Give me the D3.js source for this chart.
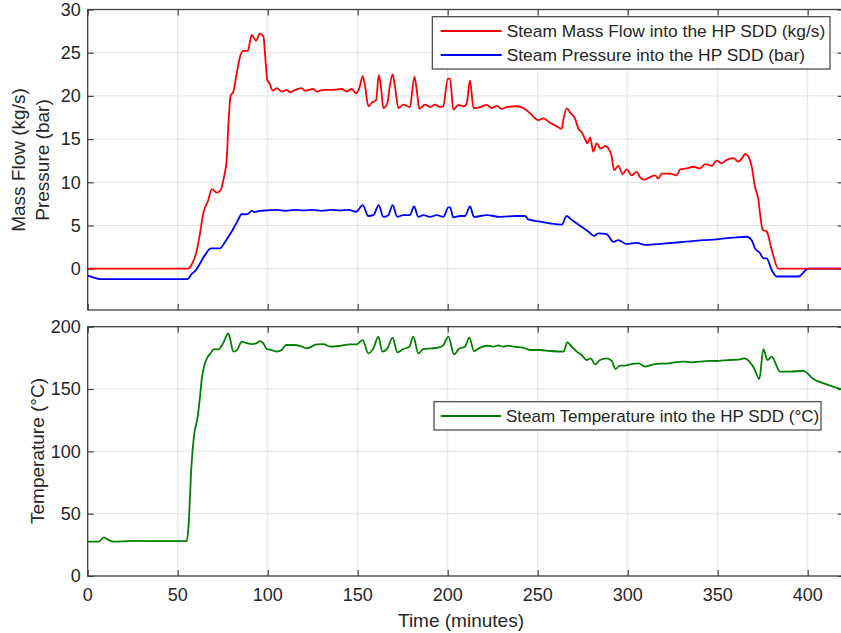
<!DOCTYPE html>
<html>
<head>
<meta charset="utf-8">
<script src="https://cdn.jsdelivr.net/npm/d3@7"></script>
<style>
  body { margin: 0; background: #fff; }
  text { font-family: "Liberation Sans", Arial, sans-serif; fill: #262626; }
</style>
</head>
<body>
<div id="myChart"></div>
<script>
// Steam conditions into the HP SDD, two stacked panels sharing the time axis

// tick labels
var timeTicks = [0, 50, 100, 150, 200, 250, 300, 350, 400];
var topTicks = [0, 5, 10, 15, 20, 25, 30];
var tempTicks = [0, 50, 100, 150, 200];

// [time (min), value]
var flowSeries = [
  [0,0],[55.5,0],[58.5,0.8],[60.5,2.0],[62.4,4.1],[64.2,6.4],[67,7.95],[68.9,9.2],[71.7,8.8],[73.9,9.1],
  [75.7,10.6],[77.2,12.6],[78.3,17.2],[79.4,20.0],[80.9,20.5],[82.8,22.6],[84.6,24.5],[86.5,25.2],[88.9,25.2],
  [91.1,27.05],[93.5,26.4],[95.7,27.2],[97.6,26.9],[98.5,24.9],[99.8,21.8],[100.9,21.5],[102.8,20.6],[105,20.9],
  [107.8,20.5],[110.6,20.7],[112.4,20.4],[115.2,20.7],[118.9,20.9],[120.7,20.6],[125.4,20.8],[127.2,20.5],
  [130.9,20.7],[136.5,20.7],[141.1,20.8],[143.9,20.5],[146.7,20.8],[149.1,20.3],[150.9,20.9],[152.8,22.3],
  [154.1,21.1],[155.9,18.8],[158.3,19.3],[160.2,19.5],[161.7,22.4],[162.9,21.1],[164.2,18.6],[166.4,19.1],
  [167.8,21.1],[169.4,22.5],[170.7,21.1],[172.6,18.6],[175.3,19.0],[179,18.7],[181.5,22.2],[182.8,20.7],
  [184.2,18.5],[187.4,19.0],[190.2,18.7],[192.9,19.0],[195.7,18.7],[197.6,18.8],[200,22.0],[201.3,22.0],
  [203.1,18.4],[205.9,18.95],[208.7,18.8],[210.5,19.1],[212.4,21.8],[214.3,18.6],[218,18.7],[221.7,18.95],
  [224.4,18.6],[227.2,18.85],[230,18.5],[232.8,18.7],[238.3,18.8],[242,18.6],[245.7,18.0],[250.4,17.2],
  [253.1,17.4],[256.8,16.9],[260.5,16.5],[263.3,16.2],[264.2,17.2],[266.1,18.55],[268.3,18.0],[270.7,17.4],
  [272.6,16.2],[274.4,15.8],[276.3,15.0],[277.6,14.5],[279.1,15.2],[280.9,13.55],[282.8,14.5],[285,13.9],
  [287.4,14.2],[289.3,13.9],[291.1,13.0],[292.4,11.4],[294.8,11.9],[297.2,10.95],[299.4,11.5],[302.2,10.8],
  [305,11.2],[306.8,10.6],[309.3,10.3],[312.4,10.6],[315.2,10.8],[317,10.45],[318.9,11.0],[323.5,11.0],
  [327.2,10.8],[329.1,11.5],[332.8,11.6],[336.5,11.8],[340.2,11.6],[343,12.1],[346.7,11.9],[349.4,12.5],
  [352.2,12.2],[355,12.6],[358.7,12.8],[361.5,12.4],[364.2,13.0],[365.2,13.3],[367,13.0],[368.9,11.8],
  [370.7,9.5],[372.6,8.0],[373.5,6.4],[375,4.5],[377.2,4.3],[380,2.2],[383.7,0],[420,0]
];

var pressureSeries = [
  [0,-0.8],[3,-1.0],[7,-1.2],[55.5,-1.2],[57.8,-0.6],[60,-0.2],[62.4,0.6],[65.2,1.6],[68.5,2.35],[73.5,2.35],
  [76.3,3.1],[80,4.3],[83.1,5.45],[85.5,6.3],[88.7,6.3],[91.1,6.7],[92.9,6.55],[95.7,6.7],[100,6.75],[105,6.8],
  [110,6.7],[115,6.8],[120,6.75],[125,6.8],[130,6.7],[135,6.8],[140,6.75],[145,6.8],[149.1,6.6],[152.8,7.35],
  [155.9,6.1],[158.7,6.2],[161.7,7.35],[164.2,6.0],[167,6.2],[169.4,7.35],[172,6.0],[175.3,6.2],[179,6.2],
  [181.3,7.2],[183.7,6.0],[186.5,6.2],[190.2,6.0],[193.9,6.2],[197.6,6.0],[200.4,7.1],[201.3,7.1],[203.1,5.95],
  [206.8,6.1],[209.6,6.1],[212.4,7.2],[214.6,6.0],[221.7,6.2],[229.1,6.0],[238.3,6.1],[242.9,6.1],[244.8,5.7],
  [251.3,5.45],[256.8,5.25],[263.3,5.1],[266.1,6.1],[268.9,5.65],[271.6,5.25],[275.4,4.7],[278.1,4.3],
  [281.3,3.8],[283.7,4.1],[288.3,4.0],[292,3.1],[294.8,3.3],[299.4,2.85],[305,3.0],[309.6,2.75],[319.8,2.9],
  [330.9,3.1],[342,3.3],[349.4,3.4],[358.7,3.6],[366.1,3.7],[368.9,3.3],[370.7,2.35],[373.5,1.8],[375.3,1.2],
  [377.2,1.2],[380,-0.15],[382.8,-0.9],[394.8,-0.9],[400.4,0],[420,0]
];

var tempSeries = [
  [0,27.5],[6,27.5],[9,31],[11.5,29],[14.3,27.5],[25.4,28.1],[44,27.9],[55,27.9],[56,39.6],[57.6,87.7],
  [59,111.8],[61.1,127.8],[62.4,143.8],[63.3,157.2],[64.6,167.9],[66.5,175.4],[68.3,178.6],[69.8,181.8],
  [72.6,181.8],[75.4,187.2],[78.1,194.7],[79,191],[80.9,180],[82.8,181],[85.6,188],[88.3,186.8],[91.1,186],
  [93.9,186.8],[95.7,188.5],[98,185.8],[99.4,182.1],[102.2,181.3],[105,180],[107.8,181.3],[110.2,185.3],
  [114.3,185.3],[118,184.7],[121.7,182.6],[127.2,185.8],[130.9,186.1],[134.6,184],[140.2,184.7],[145.7,185.8],
  [149.4,185.8],[152.8,189.3],[155.9,178.6],[158.7,182.6],[161.5,192],[163.7,180],[166.5,182.6],[169.4,191.2],
  [172,179.4],[175.4,182.1],[178.7,184],[180.9,192],[183.7,178.6],[186.5,182.1],[191.1,182.6],[194.8,183.2],
  [197.6,185.3],[200.4,192],[203.5,177.8],[206.5,182.6],[209.6,184],[212,191.2],[214.6,180.5],[218,183.2],
  [221.7,184.7],[225.4,184],[228,185],[230.9,184],[233.5,184.8],[236.5,184],[242,183.2],[245.7,181.3],
  [251.3,181.3],[256.9,180.5],[264.3,180],[266.5,187.5],[268.9,184],[271.7,180],[274.4,177.3],[277.2,173.3],
  [279.4,174.6],[281.9,169.8],[284.6,173.3],[288.3,174.6],[291.1,172.5],[293.3,166.1],[295.7,168.8],
  [298.5,168.8],[301.3,169.8],[305.9,170.6],[309.6,168],[314.3,169.8],[318,170.4],[321.7,170.4],[326,171.4],
  [330.9,172],[335,171.4],[340.2,172],[345,172.6],[349.4,172.5],[353,173],[356.9,173.3],[361,173.6],
  [365.2,174.6],[367.6,172],[370.2,166.7],[373.1,158],[375.4,182],[377.6,173.3],[380,176],[384.6,164],
  [390.2,164],[397.6,164.5],[403.1,158],[410.6,153.7],[418.5,150],[420,149.5]
];

var topLegend = ["Steam Mass Flow into the HP SDD (kg/s)", "Steam Pressure into the HP SDD (bar)"];
var bottomLegend = ["Steam Temperature into the HP SDD (\u00B0C)"];

var width = 841,
    height = 633;

var svg = d3.select("#myChart")
  .append("svg")
    .attr("width", width)
    .attr("height", height);

svg.append("rect").attr("width", width).attr("height", height).attr("fill", "#fff");

// shared time scale (right edge falls just past the picture)
var x = d3.scaleLinear().domain([0, 420]).range([87.7, 843.7]);

var yTop = d3.scaleLinear().domain([-4.78, 30]).range([310, 9.5]);
var yTemp = d3.scaleLinear().domain([0, 200]).range([576, 326.7]);

var axisColor = "#404040",
    gridColor = "#e3e3e3",
    tickLen = 6;

function drawPanel(y, yTicks, showXLabels, clipId) {
  var top = y.range()[1], bottom = y.range()[0];
  var left = x.range()[0], right = x.range()[1];
  var g = svg.append("g");

  // grid
  g.selectAll(".vgrid").data(timeTicks).enter().append("line")
    .attr("x1", d => x(d)).attr("x2", d => x(d))
    .attr("y1", top).attr("y2", bottom)
    .attr("stroke", gridColor).attr("stroke-width", 1);
  g.selectAll(".hgrid").data(yTicks).enter().append("line")
    .attr("x1", left).attr("x2", right)
    .attr("y1", d => y(d)).attr("y2", d => y(d))
    .attr("stroke", gridColor).attr("stroke-width", 1);

  // axes with inward ticks, MATLAB box style
  var labelSize = "18px";
  g.append("g")
    .attr("transform", "translate(0," + bottom + ")")
    .call(d3.axisTop(x).tickValues(timeTicks).tickSize(tickLen).tickFormat(""))
    .call(s => s.select(".domain").remove());
  g.append("g")
    .attr("transform", "translate(0," + top + ")")
    .call(d3.axisBottom(x).tickValues(timeTicks).tickSize(tickLen).tickFormat(""))
    .call(s => s.select(".domain").remove());
  g.append("g")
    .attr("transform", "translate(" + left + ",0)")
    .call(d3.axisRight(y).tickValues(yTicks).tickSize(tickLen).tickFormat(""))
    .call(s => s.select(".domain").remove());
  g.append("g")
    .attr("transform", "translate(" + right + ",0)")
    .call(d3.axisLeft(y).tickValues(yTicks).tickSize(tickLen).tickFormat(""))
    .call(s => s.select(".domain").remove());
  g.selectAll(".tick line").attr("stroke", axisColor).attr("stroke-width", 1.2);

  // tick labels
  g.selectAll(".ylab").data(yTicks).enter().append("text")
    .attr("x", left - 7).attr("y", d => y(d))
    .attr("dy", "0.35em").attr("text-anchor", "end")
    .style("font-size", labelSize)
    .text(d => d);
  if (showXLabels) {
    g.selectAll(".xlab").data(timeTicks).enter().append("text")
      .attr("x", d => x(d)).attr("y", bottom + 25)
      .attr("text-anchor", "middle")
      .style("font-size", labelSize)
      .text(d => d);
  }

  // box
  g.append("rect")
    .attr("x", left).attr("y", top)
    .attr("width", right - left).attr("height", bottom - top)
    .attr("fill", "none").attr("stroke", axisColor).attr("stroke-width", 1.3);

  svg.append("clipPath").attr("id", clipId)
    .append("rect")
    .attr("x", left).attr("y", top)
    .attr("width", right - left).attr("height", bottom - top);
}

drawPanel(yTop, topTicks, false, "clipTop");
drawPanel(yTemp, tempTicks, true, "clipBottom");

function drawLine(data, y, color, clipId) {
  var line = d3.line()
    .curve(d3.curveMonotoneX)
    .x(d => x(d[0]))
    .y(d => y(d[1]));
  svg.append("path")
    .datum(data)
    .attr("clip-path", "url(#" + clipId + ")")
    .attr("d", line)
    .attr("fill", "none")
    .attr("stroke", color)
    .attr("stroke-width", 1.8)
    .attr("stroke-linejoin", "round");
}

drawLine(pressureSeries, yTop, "#0000ff", "clipTop");
drawLine(flowSeries, yTop, "#ff0000", "clipTop");
drawLine(tempSeries, yTemp, "#008000", "clipBottom");

// axis titles
svg.append("text")
  .attr("transform", "translate(25,160) rotate(-90)")
  .attr("text-anchor", "middle")
  .style("font-size", "19px")
  .text("Mass Flow (kg/s)");
svg.append("text")
  .attr("transform", "translate(49,160) rotate(-90)")
  .attr("text-anchor", "middle")
  .style("font-size", "19px")
  .text("Pressure (bar)");
svg.append("text")
  .attr("transform", "translate(44,451) rotate(-90)")
  .attr("text-anchor", "middle")
  .style("font-size", "19px")
  .text("Temperature (\u00B0C)");
svg.append("text")
  .attr("x", 461).attr("y", 627)
  .attr("text-anchor", "middle")
  .style("font-size", "19px")
  .text("Time (minutes)");

// legends
function drawLegend(x0, y0, w, h, labels, colors, rowY, lineX1, lineX2, fontSize) {
  var g = svg.append("g");
  g.append("rect")
    .attr("x", x0).attr("y", y0).attr("width", w).attr("height", h)
    .attr("fill", "#fff").attr("stroke", axisColor).attr("stroke-width", 1.2);
  labels.forEach(function(label, i) {
    g.append("line")
      .attr("x1", lineX1).attr("x2", lineX2)
      .attr("y1", rowY[i]).attr("y2", rowY[i])
      .attr("stroke", colors[i]).attr("stroke-width", 1.8);
    g.append("text")
      .attr("x", lineX2 + 5).attr("y", rowY[i])
      .attr("dy", "0.35em")
      .style("font-size", fontSize)
      .text(label);
  });
}

drawLegend(432.3, 16.7, 397.7, 52.3, topLegend, ["#ff0000", "#0000ff"], [31, 55], 440.7, 501.7, "17.4px");
drawLegend(434, 401.7, 387, 28.3, bottomLegend, ["#008000"], [416], 440.7, 501, "17px");
</script>
</body>
</html>
